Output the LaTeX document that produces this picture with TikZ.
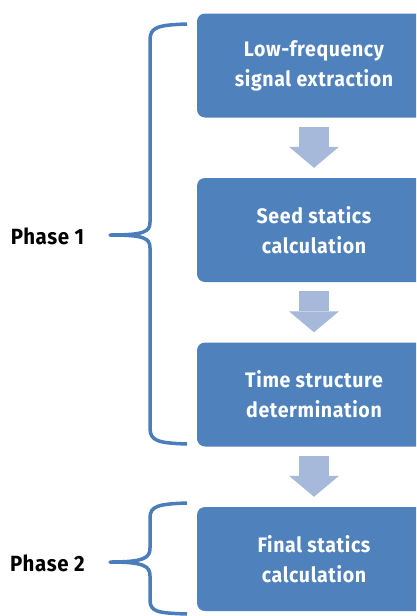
\documentclass[tikz,border=0pt]{standalone}
\usepackage{fontspec}
\setmainfont{Fira Sans}[FakeStretch=0.93, LetterSpace=3]
\usetikzlibrary{arrows.meta}
\definecolor{boxblue}{HTML}{4F81BD}
\definecolor{arrowblue}{HTML}{A7B9DB}
\definecolor{braceblue}{HTML}{4A7DBA}
\tikzstyle{stepbox} = [rectangle, rounded corners=8pt, minimum width=234pt, minimum height=104pt, text centered, align=center, fill=boxblue, text=white, font=\fontsize{21}{30}\selectfont\bfseries]
\tikzstyle{fatarrow} = [draw=arrowblue, line width=30pt, -{Triangle[width=50pt,length=21pt,line width=0pt]}, shorten <=9pt, shorten >=10pt]
\tikzstyle{brace} = [draw=braceblue, line width=3.5pt, line join=round]
\tikzstyle{phase} = [font=\fontsize{22}{26}\selectfont\bfseries]

\begin{document}
\begin{tikzpicture}[x=1pt, y=-1pt, node distance=164.5pt]

	\clip (0,0) rectangle (416,616);
	\fill [white] (0,0) rectangle (416,616);

	\node (low) [stepbox] at (314,65.5) {Low-frequency\\signal extraction};
	\node (seed) [stepbox, below of=low] {Seed statics\\calculation};
	\node (time) [stepbox, below of=seed] {Time structure\\determination};
	\node (final) [stepbox, below of=time] {Final statics\\calculation};

	\node (ph1) [phase] at (47.5,236) {Phase 1};
	\node (ph2) [phase] at (47.5,563) {Phase 2};

\draw [fatarrow] (low) -- (seed);
\draw [fatarrow] (seed) -- (time);
\draw [fatarrow] (time) -- (final);

\draw [brace] (187,24) .. controls (158,25) and (150,27) .. (150,40) -- (150,222) .. controls (150,232) and (144,235) .. (110,235) .. controls (144,235) and (150,238) .. (150,248) -- (150,428) .. controls (150,441) and (158,443) .. (187,444);
\draw [brace] (187,503) .. controls (158,504) and (150,506) .. (150,518) -- (150,548) .. controls (150,558) and (144,562) .. (110,562) .. controls (144,562) and (150,566) .. (150,576) -- (150,600) .. controls (150,612) and (158,613) .. (187,614);

\end{tikzpicture}
\end{document}
